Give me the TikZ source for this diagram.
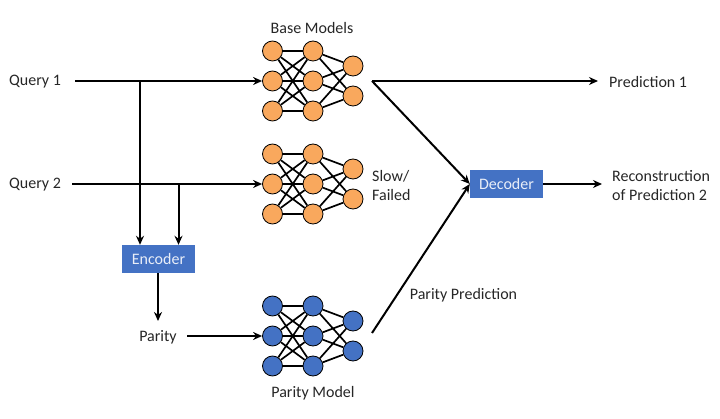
\documentclass[tikz,border=0pt]{standalone}
\usepackage{fontspec}
\setmainfont{Carlito}
\usetikzlibrary{arrows.meta,backgrounds}
\definecolor{orangen}{HTML}{F9A85D}
\definecolor{bluen}{HTML}{4472C4}
\definecolor{txt}{HTML}{262626}
\tikzset{
  x=1pt,y=-1pt,
  neuron/.style={circle,draw=black,line width=0.8pt,minimum size=20pt,inner sep=0pt,fill=#1},
  link/.style={line width=1.7pt,black},
  arrow/.style={line width=2pt,black,-{Stealth[length=9pt,width=8pt]}},
  lbl/.style={font=\fontsize{16}{19}\selectfont,text=txt,inner sep=0pt,align=center},
  bluebox/.style={fill=bluen,text=white!88!bluen,font=\fontsize{16}{18}\selectfont,inner sep=0pt,minimum width=73pt,minimum height=28pt}
}
\newcommand{\network}[3]{%
  \foreach \i/\yy in {1/0,2/30,3/60}{
    \node[neuron=#3] (#1a\i) at (272.5,#2+\yy) {};
    \node[neuron=#3] (#1b\i) at (313,#2+\yy) {};
  }
  \node[neuron=#3] (#1c1) at (353,#2+15) {};
  \node[neuron=#3] (#1c2) at (353,#2+45) {};
  \begin{scope}[on background layer]
  \foreach \i in {1,2,3}{
    \foreach \j in {1,2,3}{\draw[link] (#1a\i) -- (#1b\j);}
    \foreach \j in {1,2}{\draw[link] (#1b\i) -- (#1c\j);}
  }
  \end{scope}
}
\begin{document}
\begin{tikzpicture}
\useasboundingbox (0,0) rectangle (720,419);
\network{p}{51}{orangen}
\network{q}{154}{orangen}
\network{r}{306}{bluen}
\node[lbl] (base) at (312,28) {Base Models};
\node[lbl] (pmodel) at (313,393) {Parity Model};
\node[lbl,align=left,anchor=west] (slow) at (372,185.5) {Slow/\\Failed};
\node[lbl,anchor=west] (q1) at (9,82) {Query 1};
\node[lbl,anchor=west] (q2) at (9,185) {Query 2};
\node[lbl] (parity) at (158,337) {Parity};
\node[lbl] (pp) at (463.5,295) {Parity Prediction};
\node[lbl,anchor=west] (pred1) at (609,82) {Prediction 1};
\node[lbl,align=left,anchor=west] (recon) at (612,185.5) {Reconstruction\\of Prediction 2};
\node[bluebox] (enc) at (158.5,259) {Encoder};
\node[bluebox] (dec) at (506.5,184) {Decoder};
\coordinate (q1s) at (75,81);
\coordinate (q2s) at (72,184);
\coordinate (j1) at (140,81);
\coordinate (j2) at (178.5,184);
\coordinate (ps) at (187,336);
\coordinate (o1) at (372,81);
\coordinate (o3) at (372,333);
\coordinate (pe) at (598,81);
\coordinate (re) at (602,184);
\coordinate (pt) at (158,321);
\draw[arrow] (q1s) -- (pa2.west);
\draw[arrow] (q2s) -- (qa2.west);
\draw[arrow] (j1) -- (j1 |- enc.north);
\draw[arrow] (j2) -- (j2 |- enc.north);
\draw[arrow] (enc.south -| pt) -- (pt);
\draw[arrow] (ps) -- (ra2.west);
\draw[arrow] (o1) -- (pe);
\draw[arrow] (o1) -- (dec.west);
\draw[arrow] (o3) -- (dec.west);
\draw[arrow] (dec.east) -- (re);
\end{tikzpicture}
\end{document}
